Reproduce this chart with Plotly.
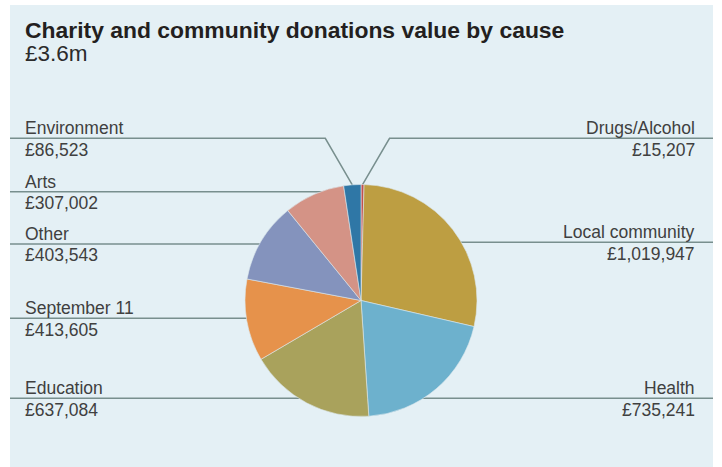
import math
import plotly.graph_objects as go

# Donations by cause (GBP), listed clockwise from 12 o'clock
causes = ["Drugs/Alcohol", "Local community", "Health", "Education",
          "September 11", "Other", "Arts", "Environment"]
values = [15207, 1019947, 735241, 637084, 413605, 403543, 307002, 86523]
total_label = "£3.6m"
title_text = "Charity and community donations value by cause"

slice_colors = {
    "Drugs/Alcohol": "#c2504f",
    "Local community": "#bd9e42",
    "Health": "#6db1cd",
    "Education": "#a9a25c",
    "September 11": "#e6924b",
    "Other": "#8493bd",
    "Arts": "#d49386",
    "Environment": "#2f77a6",
}

# Label rows: side of the chart, pixel row of the leader line, elbowed or not
label_rows = {
    "Environment": ("left", 138.3, True),
    "Arts": ("left", 191.7, False),
    "Other": ("left", 244.0, False),
    "September 11": ("left", 318.3, False),
    "Education": ("left", 398.3, False),
    "Drugs/Alcohol": ("right", 138.3, True),
    "Local community": ("right", 242.3, False),
    "Health": ("right", 398.3, False),
}

W, H = 722, 467
CX, CY, R = 361.0, 300.5, 116.0
PANEL = (10, 5, 713, 467)
LINE_COLOR = "#788f8e"
TEXT_COLOR = "#404040"
FONT = "Liberation Sans, Arial, sans-serif"
LABEL_SIZE = 17.5
ELBOW_DX = 27

fig = go.Figure()

fig.add_trace(go.Pie(
    labels=causes,
    values=values,
    sort=False,
    direction="clockwise",
    rotation=0,
    marker=dict(colors=[slice_colors[c] for c in causes],
                line=dict(color="#dce8ec", width=0.6)),
    textinfo="none",
    hoverinfo="label+value",
    showlegend=False,
    domain=dict(x=[(CX - R) / W, (CX + R) / W],
                y=[1 - (CY + R) / H, 1 - (CY - R) / H]),
))

shapes = [dict(type="rect", xref="x", yref="y", layer="below",
               x0=PANEL[0], y0=PANEL[1], x1=PANEL[2], y1=PANEL[3],
               fillcolor="#e4f0f5", line=dict(width=0))]

# Mid-angle of each slice (degrees clockwise from 12 o'clock)
tot = sum(values)
mid_angle = {}
acc = 0.0
for c, v in zip(causes, values):
    mid_angle[c] = (acc + v / 2) / tot * 360.0
    acc += v

annotations = []
for c, v in zip(causes, values):
    side, ly, elbow = label_rows[c]
    a = math.radians(mid_angle[c])
    ex, ey = CX + R * math.sin(a), CY - R * math.cos(a)
    edge_x = PANEL[0] if side == "left" else PANEL[2]
    if elbow:
        kx = ex - ELBOW_DX if side == "left" else ex + ELBOW_DX
        path = f"M {edge_x},{ly} L {kx},{ly} L {ex},{ey}"
    else:
        path = f"M {edge_x},{ly} L {CX},{ly}"
    shapes.append(dict(type="path", xref="x", yref="y", layer="below",
                       path=path, line=dict(color=LINE_COLOR, width=1.5)))

    tx = 23 if side == "left" else 697
    anchor = "left" if side == "left" else "right"
    for txt, ty in ((c, ly - 10.2), (f"£{v:,}", ly + 11.2)):
        annotations.append(dict(
            x=tx, y=ty, xref="x", yref="y", text=txt, showarrow=False,
            xanchor=anchor, yanchor="middle",
            font=dict(family=FONT, size=LABEL_SIZE, color=TEXT_COLOR)))

annotations.append(dict(
    x=23, y=30, xref="x", yref="y", text=f"<b>{title_text}</b>",
    showarrow=False, xanchor="left", yanchor="middle",
    font=dict(family=FONT, size=22.9, color="#231f20")))
annotations.append(dict(
    x=23, y=53.7, xref="x", yref="y", text=total_label,
    showarrow=False, xanchor="left", yanchor="middle",
    font=dict(family=FONT, size=22.5, color="#2b2b2b")))

fig.update_layout(
    width=W, height=H,
    margin=dict(l=0, r=0, t=0, b=0),
    paper_bgcolor="white",
    plot_bgcolor="rgba(0,0,0,0)",
    xaxis=dict(range=[0, W], visible=False, fixedrange=True),
    yaxis=dict(range=[H, 0], visible=False, fixedrange=True),
    shapes=shapes,
    annotations=annotations,
    showlegend=False,
)

fig.write_html("out.html")
